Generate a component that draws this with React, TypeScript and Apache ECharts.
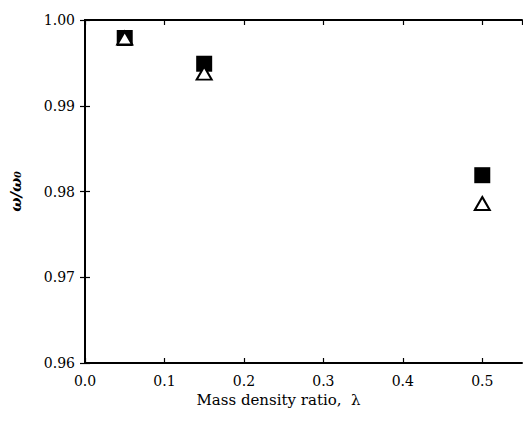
import React, { useEffect, useRef } from "react";
import * as echarts from "echarts";

const lambdaValues = [0.05, 0.15, 0.5];
const squareValues = [0.9979, 0.9949, 0.9819];
const triangleValues = [0.9979, 0.9938, 0.9786];
const xTicks = [0, 0.1, 0.2, 0.3, 0.4, 0.5];

export default function App() {
  const ref = useRef<HTMLDivElement>(null);
  useEffect(() => {
    if (!ref.current) return;
    const chart = echarts.init(ref.current, null, { renderer: "svg" });
    const font = "DejaVu Serif";
    const axisLine = { show: true, lineStyle: { color: "#000", width: 2 } };
    const axisTick = { show: true, inside: true, length: 5, lineStyle: { color: "#000", width: 1.2 } };
    chart.setOption({
      animation: false,
      backgroundColor: "#fff",
      grid: { left: 83, right: 1, top: 20, bottom: 66 },
      xAxis: [
        {
          type: "value",
          min: 0,
          max: 0.55,
          interval: 0.1,
          position: "bottom",
          axisLine,
          axisTick,
          splitLine: { show: false },
          axisLabel: {
            showMaxLabel: false,
            margin: 11,
            color: "#000",
            fontFamily: font,
            fontSize: 14,
            formatter: (v: number) => (xTicks.some((t) => Math.abs(t - v) < 1e-6) ? v.toFixed(1) : ""),
          },
          name: "Mass density ratio,  λ",
          nameLocation: "middle",
          nameGap: 29,
          nameTextStyle: { color: "#000", fontFamily: font, fontSize: 15, padding: [0, 50, 0, 0] },
        },
        {
          type: "value",
          min: 0,
          max: 0.55,
          interval: 0.1,
          position: "top",
          axisLine,
          axisTick,
          splitLine: { show: false },
          axisLabel: { show: false },
        },
      ],
      yAxis: [
        {
          type: "value",
          min: 0.96,
          max: 1.0,
          interval: 0.01,
          position: "left",
          axisLine,
          axisTick,
          splitLine: { show: false },
          axisLabel: {
            margin: 10,
            color: "#000",
            fontFamily: font,
            fontSize: 14,
            formatter: (v: number) => v.toFixed(2),
          },
          name: "ω/ω₀",
          nameLocation: "middle",
          nameGap: 62,
          nameRotate: 90,
          nameTextStyle: { color: "#000", fontFamily: font, fontSize: 15, fontStyle: "italic", fontWeight: "bold" },
        },
        {
          type: "value",
          min: 0.96,
          max: 1.0,
          interval: 0.01,
          position: "right",
          axisLine,
          axisTick,
          splitLine: { show: false },
          axisLabel: { show: false },
        },
      ],
      series: [
        {
          type: "scatter",
          symbol: "rect",
          symbolSize: 16,
          itemStyle: { color: "#000", opacity: 1 },
          data: lambdaValues.map((x, i) => [x, squareValues[i]]),
          z: 2,
        },
        {
          type: "scatter",
          symbol: "triangle",
          symbolSize: [15, 13],
          itemStyle: { color: "#fff", borderColor: "#000", borderWidth: 2, opacity: 1 },
          data: lambdaValues.map((x, i) => [x, triangleValues[i]]),
          z: 3,
        },
      ],
    });
    return () => chart.dispose();
  }, []);
  return <div ref={ref} style={{ width: 523, height: 429, position: "absolute", left: 0, top: 0 }} />;
}
